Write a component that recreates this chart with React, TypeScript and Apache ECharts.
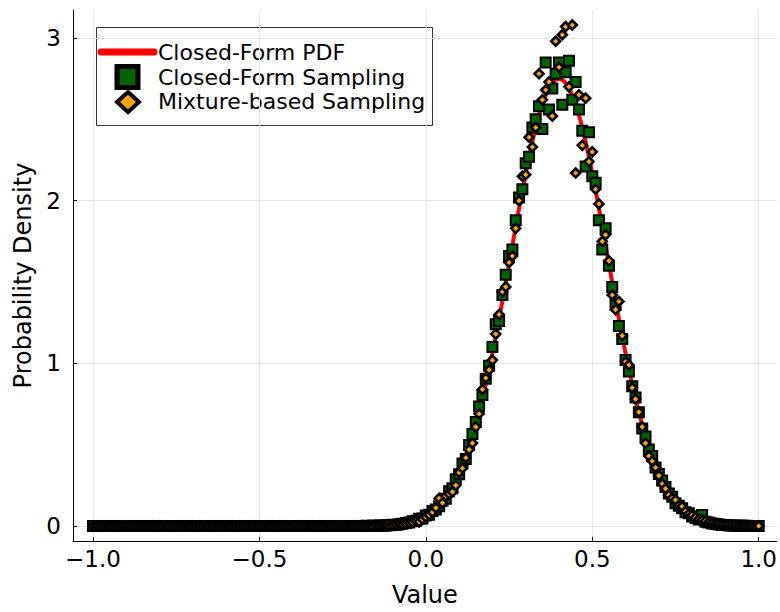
import React, { useEffect, useRef } from "react";
import * as echarts from "echarts";

// Bin centres run from BIN_START in steps of BIN_WIDTH (201 bins, -1.00 … 1.00)
const BIN_START = -1.0;
const BIN_WIDTH = 0.01;

// Closed-Form Sampling (green squares), one value per bin
const closedFormSampling = [
  0, 0, 0, 0, 0, 0, 0, 0, 0, 0, 0, 0, 0, 0, 0, 0, 0, 0, 0, 0,
  0, 0, 0, 0, 0, 0, 0, 0, 0, 0, 0, 0, 0, 0, 0, 0, 0, 0, 0, 0,
  0, 0, 0, 0, 0, 0, 0, 0, 0, 0, 0, 0, 0, 0, 0, 0, 0, 0, 0, 0,
  0, 0, 0, 0, 0, 0, 0, 0, 0, 0, 0, 0, 0, 0, 0, 0, 0, 0, 0, 0,
  0, 0, 0.001, 0, 0.002, 0.001, 0.003, 0.002, 0.004, 0.005,
  0.008, 0.006, 0.011, 0.014, 0.018, 0.021, 0.03, 0.032, 0.045, 0.047,
  0.064, 0.07, 0.092, 0.101, 0.122, 0.155, 0.168, 0.214, 0.232, 0.287,
  0.318, 0.385, 0.412, 0.498, 0.565, 0.64, 0.735, 0.805, 0.905, 0.985,
  1.1, 1.24, 1.26, 1.42, 1.545, 1.66, 1.7, 1.88, 2.02, 2.07,
  2.23, 2.27, 2.45, 2.5, 2.58, 2.44, 2.85, 2.56, 2.69, 2.78,
  2.85, 2.59, 2.79, 2.86, 2.62, 2.73, 2.56, 2.43, 2.21, 2.42,
  2.15, 2.11, 1.88, 1.7, 1.83, 1.6, 1.47, 1.36, 1.23, 1.15,
  1.02, 0.95, 0.86, 0.79, 0.7, 0.6, 0.55, 0.47, 0.43, 0.36,
  0.32, 0.28, 0.24, 0.2, 0.18, 0.14, 0.125, 0.11, 0.085, 0.078,
  0.058, 0.05, 0.04, 0.068, 0.027, 0.022, 0.016, 0.013, 0.01, 0.007,
  0.006, 0.004, 0.004, 0.002, 0.002, 0.001, 0.001, 0, 0, 0,
  0,
];

// Mixture-based Sampling (orange diamonds), one value per bin
const mixtureSampling = [
  0, 0, 0, 0, 0, 0, 0, 0, 0, 0, 0, 0, 0, 0, 0, 0, 0, 0, 0, 0,
  0, 0, 0, 0, 0, 0, 0, 0, 0, 0, 0, 0, 0, 0, 0, 0, 0, 0, 0, 0,
  0, 0, 0, 0, 0, 0, 0, 0, 0, 0, 0, 0, 0, 0, 0, 0, 0, 0, 0, 0,
  0, 0, 0, 0, 0, 0, 0, 0, 0, 0, 0, 0, 0, 0, 0, 0, 0, 0, 0, 0,
  0, 0.001, 0, 0.002, 0.001, 0.003, 0.002, 0.004, 0.005, 0.004,
  0.007, 0.009, 0.012, 0.011, 0.016, 0.02, 0.024, 0.031, 0.025, 0.042,
  0.055, 0.068, 0.085, 0.112, 0.17, 0.142, 0.185, 0.198, 0.21, 0.25,
  0.33, 0.355, 0.42, 0.47, 0.51, 0.61, 0.69, 0.84, 0.91, 0.96,
  1.02, 1.18, 1.3, 1.44, 1.47, 1.62, 1.66, 1.83, 2.0, 2.15,
  2.16, 2.39, 2.33, 2.45, 2.78, 2.62, 2.68, 2.73, 2.52, 2.98,
  2.82, 3.02, 3.07, 2.7, 3.08, 2.17, 2.65, 2.34, 2.63, 2.24,
  2.3, 2.07, 1.98, 1.75, 1.79, 1.63, 1.42, 1.33, 1.38, 1.17,
  1.01, 0.99, 0.85, 0.78, 0.7, 0.61, 0.51, 0.43, 0.4, 0.36,
  0.31, 0.26, 0.23, 0.19, 0.17, 0.16, 0.125, 0.12, 0.09, 0.074,
  0.066, 0.052, 0.041, 0.036, 0.03, 0.022, 0.018, 0.014, 0.012, 0.01,
  0.008, 0.006, 0.005, 0.004, 0.003, 0.002, 0.002, 0.001, 0.001, 0,
  0,
];

// Closed-Form PDF (red line)
const pdfX = [
  -1.0, -0.5, -0.2, -0.1, -0.06, -0.02, 0.0, 0.02, 0.04, 0.06, 0.08, 0.1,
  0.12, 0.14, 0.16, 0.18, 0.2, 0.22, 0.24, 0.26, 0.28, 0.3, 0.32, 0.34,
  0.36, 0.38, 0.4, 0.42, 0.44, 0.46, 0.48, 0.5, 0.52, 0.54, 0.56, 0.58,
  0.6, 0.62, 0.64, 0.66, 0.68, 0.7, 0.72, 0.74, 0.76, 0.78, 0.8, 0.82,
  0.86, 0.9, 1.0,
];
const pdfY = [
  0, 0, 0.001, 0.007, 0.018, 0.041, 0.061, 0.089, 0.126, 0.176, 0.241, 0.324,
  0.426, 0.551, 0.699, 0.87, 1.062, 1.273, 1.496, 1.726, 1.953, 2.168, 2.362, 2.525,
  2.647, 2.724, 2.75, 2.724, 2.647, 2.525, 2.362, 2.168, 1.953, 1.726, 1.496, 1.273,
  1.062, 0.87, 0.699, 0.551, 0.426, 0.324, 0.241, 0.176, 0.126, 0.089, 0.061, 0.041,
  0.018, 0.007, 0.001,
];

const xTicks = [-1.0, -0.5, 0.0, 0.5, 1.0];
const yTicks = [0, 1, 2, 3];

const seriesNames = ["Closed-Form PDF", "Closed-Form Sampling", "Mixture-based Sampling"];

const FONT = "DejaVu Sans";

export default function App() {
  const ref = useRef<HTMLDivElement>(null);

  useEffect(() => {
    document.body.style.margin = "0";
    if (!ref.current) return;
    const chart = echarts.init(ref.current, undefined, { renderer: "svg" });

    const binX = (i: number) => +(BIN_START + i * BIN_WIDTH).toFixed(2);
    const cfData = closedFormSampling.map((v, i) => [binX(i), v]);
    const mixData = mixtureSampling.map((v, i) => [binX(i), v]);
    const pdfData = pdfX.map((x, i) => [x, pdfY[i]]);

    const fmtX = (v: number) => v.toFixed(1).replace("-", "\u2212");

    const legendX = 96.5;
    const legendY = 27.5;

    chart.setOption({
      animation: false,
      backgroundColor: "#ffffff",
      grid: { left: 73, right: 2, top: 10, bottom: 70, containLabel: false },
      xAxis: {
        type: "value",
        min: -1.06,
        max: 1.054,
        name: "Value",
        nameLocation: "middle",
        nameGap: 42,
        nameTextStyle: { fontFamily: FONT, fontSize: 24, color: "#000" },
        axisLine: { show: true, onZero: false, lineStyle: { color: "#000", width: 1 } },
        axisTick: { show: true, inside: true, length: 4, customValues: xTicks, lineStyle: { color: "#000" } },
        axisLabel: {
          customValues: xTicks,
          formatter: fmtX,
          fontFamily: FONT,
          fontSize: 23,
          color: "#000",
          margin: 6,
        },
        splitLine: { show: true, lineStyle: { color: "#e6e6e6", width: 1 } },
      },
      yAxis: {
        type: "value",
        min: -0.092,
        max: 3.172,
        name: "Probability Density",
        nameLocation: "middle",
        nameGap: 33,
        nameTextStyle: { fontFamily: FONT, fontSize: 24, color: "#000" },
        axisLine: { show: true, onZero: false, lineStyle: { color: "#000", width: 1 } },
        axisTick: { show: true, inside: true, length: 4, customValues: yTicks, lineStyle: { color: "#000" } },
        axisLabel: {
          customValues: yTicks,
          formatter: (v: number) => String(v),
          fontFamily: FONT,
          fontSize: 23,
          color: "#000",
          margin: 12,
        },
        splitLine: { show: true, lineStyle: { color: "#e6e6e6", width: 1 } },
      },
      series: [
        {
          name: seriesNames[0],
          type: "line",
          data: pdfData,
          showSymbol: false,
          smooth: 0.3,
          lineStyle: { color: "#ff0000", width: 4 },
          z: 1,
        },
        {
          name: seriesNames[1],
          type: "scatter",
          data: cfData,
          symbol: "rect",
          symbolSize: 10,
          itemStyle: { color: "#006400", borderColor: "#000", borderWidth: 2, opacity: 1 },
          z: 2,
        },
        {
          name: seriesNames[2],
          type: "scatter",
          data: mixData,
          symbol: "diamond",
          symbolSize: 9,
          itemStyle: { color: "#ffa500", borderColor: "#000", borderWidth: 2.6, opacity: 1 },
          z: 3,
        },
      ],
      graphic: [
        {
          type: "group",
          z: 100,
          children: [
            {
              type: "rect",
              shape: { x: legendX, y: legendY, width: 336, height: 98 },
              style: { fill: "#fff", stroke: "#333", lineWidth: 1 },
            },
            {
              type: "line",
              shape: { x1: 101, y1: 52, x2: 154, y2: 52 },
              style: { stroke: "#ff0000", lineWidth: 7, lineCap: "round" },
            },
            {
              type: "rect",
              shape: { x: 117, y: 66.5, width: 21, height: 21 },
              style: { fill: "#006400", stroke: "#000", lineWidth: 5 },
            },
            {
              type: "polygon",
              shape: { points: [[117, 102], [128, 92], [139, 102], [128, 112]] },
              style: { fill: "#ffa500", stroke: "#000", lineWidth: 4, lineJoin: "miter" },
            },
            {
              type: "text",
              x: 158,
              y: 52,
              style: { text: seriesNames[0], fontFamily: FONT, fontSize: 22, fill: "#000", verticalAlign: "middle" },
            },
            {
              type: "text",
              x: 158,
              y: 77,
              style: { text: seriesNames[1], fontFamily: FONT, fontSize: 22, fill: "#000", verticalAlign: "middle" },
            },
            {
              type: "text",
              x: 158,
              y: 101,
              style: { text: seriesNames[2], fontFamily: FONT, fontSize: 22, fill: "#000", verticalAlign: "middle" },
            },
          ],
        },
      ],
    });

    return () => chart.dispose();
  }, []);

  return <div ref={ref} style={{ width: 780, height: 612 }} />;
}
